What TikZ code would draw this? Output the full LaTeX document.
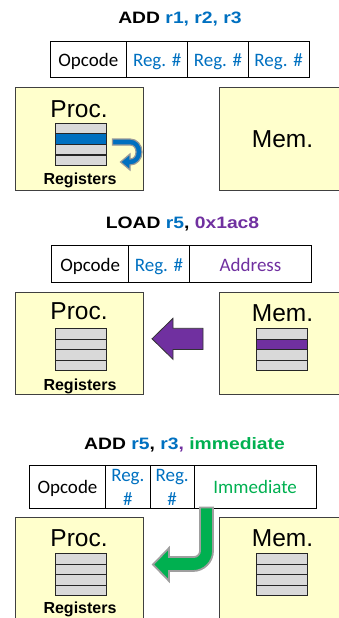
\documentclass[tikz,border=0pt]{standalone}
\usepackage{fontspec}
\setmainfont{Liberation Sans}
\newfontfamily\titlefont[FakeStretch=1.17]{Liberation Sans Bold}
\newfontfamily\cellfnt{Carlito}
\newfontfamily\boldsans{Liberation Sans Bold}
\definecolor{ofblue}{RGB}{0,112,192}
\definecolor{ofpurple}{RGB}{112,48,160}
\definecolor{ofgreen}{RGB}{0,176,80}
\definecolor{boxyellow}{RGB}{255,255,204}
\definecolor{reggray}{RGB}{217,217,217}
\begin{document}
\begin{tikzpicture}[x=1pt,y=-1pt,
  title/.style={anchor=base, inner sep=0pt, font=\titlefont\fontsize{16.5}{19}\selectfont},
  cell/.style={draw=black, line width=0.9pt, inner sep=0pt, text height=17pt, text depth=3pt, font=\cellfnt\fontsize{19}{23}\selectfont},
  celltext/.style={anchor=base, inner sep=0pt, text=ofblue, font=\cellfnt\fontsize{19}{23}\selectfont},
  unitbox/.style={draw=black!75, line width=0.9pt, fill=boxyellow, anchor=north west, inner sep=0pt},
  big/.style={anchor=base, inner sep=0pt, font=\fontsize{24.5}{29}\selectfont},
  regs/.style={anchor=base, inner sep=0pt, font=\boldsans\fontsize{16}{19}\selectfont},
  regrow/.style={draw=black!85, line width=1.1pt, minimum width=51pt, minimum height=10.575pt, inner sep=0pt, anchor=north west},
  blockarrow/.style={line join=miter}
]
\useasboundingbox (0,0) rectangle (339,618);
\clip (0,0) rectangle (339,618);

% ================= Panel 1 =================
\node[title] (t1) at (180,23.3) {ADD \textcolor{ofblue}{r1, r2, r3}};
\node[cell, minimum width=76.7pt, minimum height=36pt] (c1a) at (88.35,59.7) {Opcode};
\node[cell, minimum width=61pt, minimum height=36pt, text=ofblue] (c1b) at (157.2,59.7) {Reg. \#};
\node[cell, minimum width=60.6pt, minimum height=36pt, text=ofblue] (c1c) at (218,59.7) {Reg. \#};
\node[cell, minimum width=60.7pt, minimum height=36pt, text=ofblue] (c1d) at (278.65,59.7) {Reg. \#};

\node[unitbox, minimum width=128pt, minimum height=102.7pt] (proc1) at (15,87.3) {};
\node[unitbox, minimum width=140pt, minimum height=102.7pt] (mem1) at (219.3,87.3) {};
\node[big] (pl1) at (79,117.5) {Proc.};
\node[big] (ml1) at (282.5,147) {Mem.};
\foreach \i/\c in {1/reggray,2/ofblue,3/reggray,4/reggray}
  \node[regrow, fill=\c] (s1r\i) at (55,{122.7+(\i-1)*10.575}) {};
\node[regs] (rg1) at (80,184) {Registers};
\filldraw[blockarrow, fill=ofblue, draw=gray!80, line width=1.2pt]
  (112.5,139) -- (130,139) .. controls (137,139) and (142,144.8) .. (142,152)
  .. controls (142,159.2) and (137,165) .. (130,165) -- (130,170) -- (120.5,162)
  -- (130,154) -- (130,159) .. controls (133.9,159) and (136,155.9) .. (136,152)
  .. controls (136,148.1) and (133.9,145) .. (130,145) -- (112.5,145) -- cycle;

% ================= Panel 2 =================
\node[title] (t2) at (182.5,228) {LOAD \textcolor{ofblue}{r5}, \textcolor{ofpurple}{0x1ac8}};
\node[cell, minimum width=77pt, minimum height=36.6pt] (c2a) at (90.2,264) {Opcode};
\node[cell, minimum width=60.6pt, minimum height=36.6pt, text=ofblue] (c2b) at (159,264) {Reg. \#};
\node[cell, minimum width=122.4pt, minimum height=36.6pt, text=ofpurple] (c2c) at (250.5,264) {Address};

\node[unitbox, minimum width=128pt, minimum height=101.7pt] (proc2) at (15,292.3) {};
\node[unitbox, minimum width=140pt, minimum height=101.7pt] (mem2) at (219.3,292.3) {};
\node[big] (pl2) at (79,319.5) {Proc.};
\node[big] (ml2) at (282.5,321) {Mem.};
\foreach \i in {1,2,3,4}
  \node[regrow, fill=reggray] (s2r\i) at (55,{328.3+(\i-1)*10.425}) {};
\foreach \i/\c in {1/reggray,2/ofpurple,3/reggray,4/reggray}
  \node[regrow, fill=\c, minimum width=50.7pt] (m2r\i) at (256,{328.3+(\i-1)*10.425}) {};
\node[regs] (rg2) at (80,390.7) {Registers};
\filldraw[blockarrow, fill=ofpurple, draw=black!80, line width=0.8pt]
  (203,328.3) -- (173,328.3) -- (173,318.3) -- (152,338.8) -- (173,359.3)
  -- (173,349.5) -- (203,349.5) -- cycle;

% ================= Panel 3 =================
\node[title] (t3) at (184.5,449) {ADD \textcolor{ofblue}{r5}, \textcolor{ofblue}{r3}\textcolor{ofpurple}{,} \textcolor{ofgreen}{immediate}};
\node[cell, minimum width=76.4pt, minimum height=43.3pt] (c3a) at (67.5,486.65) {Opcode};
\node[cell, minimum width=44.3pt, minimum height=43.3pt] (c3b) at (127.85,486.65) {};
\node[cell, minimum width=44.3pt, minimum height=43.3pt] (c3c) at (172.15,486.65) {};
\node[cell, minimum width=121.7pt, minimum height=43.3pt, text=ofgreen] (c3d) at (255.15,486.65) {Immediate};
\node[celltext] (r3b1) at (127.85,481.7) {Reg.};
\node[celltext] (r3b2) at (127.85,505) {\#};
\node[celltext] (r3c1) at (172.15,481.7) {Reg.};
\node[celltext] (r3c2) at (172.15,505) {\#};

\node[unitbox, minimum width=128pt, minimum height=120pt] (proc3) at (15,517.3) {};
\node[unitbox, minimum width=140pt, minimum height=120pt] (mem3) at (219.3,517.3) {};
\node[big] (pl3) at (79,546.7) {Proc.};
\node[big] (ml3) at (282.5,546.7) {Mem.};
\foreach \i in {1,2,3,4}
  \node[regrow, fill=reggray] (s3r\i) at (55,{553.3+(\i-1)*10.425}) {};
\foreach \i in {1,2,3,4}
  \node[regrow, fill=reggray, minimum width=50.7pt] (m3r\i) at (256,{553.3+(\i-1)*10.425}) {};
\node[regs] (rg3) at (80,613.5) {Registers};
\filldraw[blockarrow, fill=ofgreen, draw=gray!75, line width=1.8pt]
  (200,507.5) -- (200,551) .. controls (200,554.3) and (197.3,557) .. (194,557)
  -- (169,557) -- (169,548) -- (153,564.5) -- (169,581) -- (169,571) -- (193,571)
  .. controls (204,571) and (213,562) .. (213,551) -- (213,507.5) -- cycle;
\end{tikzpicture}
\end{document}
